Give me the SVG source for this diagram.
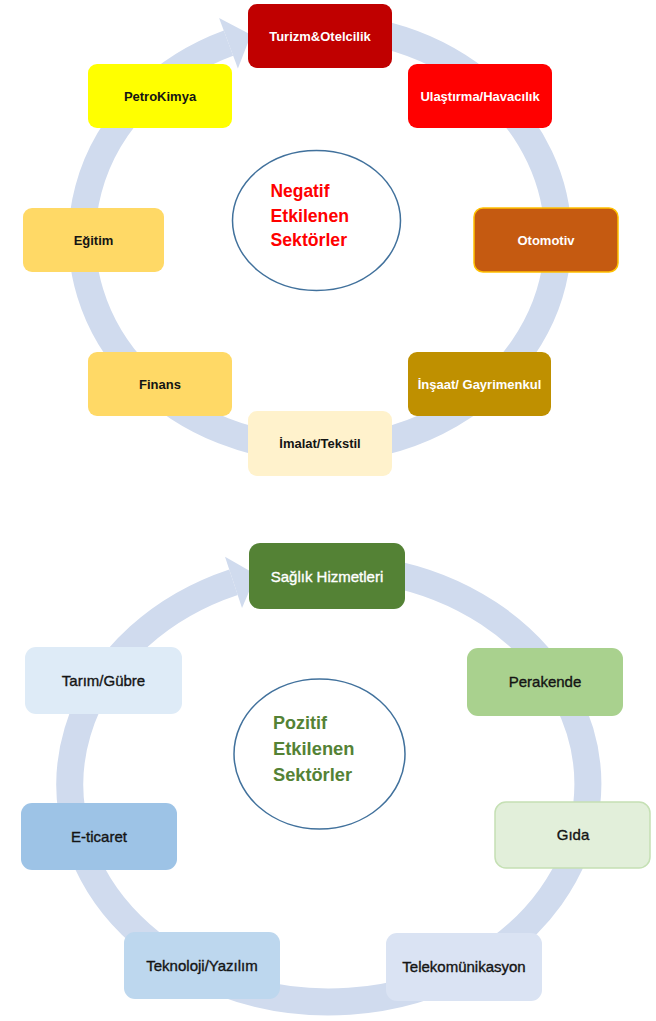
<svg xmlns="http://www.w3.org/2000/svg" width="656" height="1021" viewBox="0 0 656 1021">
<style>
.ring{fill:none;stroke:#D0DBEE;stroke-width:27}
.head{fill:#D0DBEE}
.lt{font-family:"Liberation Sans",Arial,sans-serif;font-weight:bold;font-size:13px;text-anchor:middle}
.lb{font-family:"Liberation Sans",Arial,sans-serif;font-size:15px;text-anchor:middle;stroke-width:0.35}
.w{fill:#FFFFFF}
.k{fill:#141414}
.lb.w{stroke:#FFFFFF}
.lb.k{stroke:#141414}
.ctr{fill:#FFFFFF;stroke:#41719C;stroke-width:1.5}
.ct{font-family:"Liberation Sans",Arial,sans-serif;font-weight:bold;font-size:19px}
</style>
<rect width="656" height="1021" fill="#FFFFFF"/>
<g id="connectors">
  <path class="ring" d="M 375 32.7 A 238 211 0 1 1 228.5 43.2"/>
  <polygon class="head" points="219.1,17.9 251,34.8 237.9,68.5"/>
  <path class="ring" d="M 385 572.2 A 259 217.5 0 1 1 233.5 582.3"/>
  <polygon class="head" points="225,556.7 256.3,574.7 242,607.9"/>
</g>
<g id="center-neg">
  <ellipse class="ctr" cx="316.5" cy="220.5" rx="84" ry="70"/>
  <text class="ct" fill="#FF0000" x="270.5" y="197.3" textLength="59" lengthAdjust="spacingAndGlyphs">Negatif</text>
  <text class="ct" fill="#FF0000" x="270.5" y="221.7" textLength="78.5" lengthAdjust="spacingAndGlyphs">Etkilenen</text>
  <text class="ct" fill="#FF0000" x="270.5" y="246" textLength="76.5" lengthAdjust="spacingAndGlyphs">Sektörler</text>
</g>
<g id="turizm"><rect x="248" y="4" width="144" height="64" rx="9" fill="#C00000"/><text class="lt w" x="320" y="40.5">Turizm&amp;Otelcilik</text></g>
<g id="ulastirma"><rect x="408" y="64" width="144" height="64" rx="9" fill="#FF0000"/><text class="lt w" x="480" y="100.5">Ulaştırma/Havacılık</text></g>
<g id="petrokimya"><rect x="88" y="64" width="144" height="64" rx="9" fill="#FFFF00"/><text class="lt k" x="160" y="100.5">PetroKimya</text></g>
<g id="egitim"><rect x="23" y="208" width="141" height="64" rx="9" fill="#FFD966"/><text class="lt k" x="93.5" y="244.5">Eğitim</text></g>
<g id="otomotiv"><rect x="474" y="208" width="144" height="64" rx="9" fill="#C55A11" stroke="#FFC000" stroke-width="1.5"/><text class="lt w" x="546" y="244.5">Otomotiv</text></g>
<g id="insaat"><rect x="408" y="352" width="143" height="64" rx="9" fill="#BF9000"/><text class="lt w" x="479.5" y="388.5">İnşaat/ Gayrimenkul</text></g>
<g id="finans"><rect x="88" y="352" width="144" height="64" rx="9" fill="#FFD966"/><text class="lt k" x="160" y="388.5">Finans</text></g>
<g id="imalat"><rect x="248" y="411" width="144" height="65" rx="9" fill="#FFF2CC"/><text class="lt k" x="320" y="448">İmalat/Tekstil</text></g>
<g id="center-pos">
  <ellipse class="ctr" cx="319.5" cy="754" rx="85.5" ry="75"/>
  <text class="ct" fill="#548235" x="273" y="729.3" font-size="20" textLength="54" lengthAdjust="spacingAndGlyphs">Pozitif</text>
  <text class="ct" fill="#548235" x="273" y="755" font-size="20" textLength="81.5" lengthAdjust="spacingAndGlyphs">Etkilenen</text>
  <text class="ct" fill="#548235" x="273" y="780.7" font-size="20" textLength="79" lengthAdjust="spacingAndGlyphs">Sektörler</text>
</g>
<g id="saglik"><rect x="249" y="543" width="156" height="66" rx="11" fill="#548235"/><text class="lb w" x="327" y="581.5">Sağlık Hizmetleri</text></g>
<g id="perakende"><rect x="467" y="648" width="156" height="68" rx="11" fill="#A9D18E"/><text class="lb k" x="545" y="687">Perakende</text></g>
<g id="gida"><rect x="495" y="802" width="155" height="66" rx="11" fill="#E2EFDA" stroke="#C5E0B4" stroke-width="1.5"/><text class="lb k" x="573" y="840">Gıda</text></g>
<g id="telekom"><rect x="386" y="933" width="156" height="68" rx="11" fill="#DAE3F3"/><text class="lb k" x="464" y="972">Telekomünikasyon</text></g>
<g id="teknoloji"><rect x="124" y="932" width="156" height="67" rx="11" fill="#BDD7EE"/><text class="lb k" x="202" y="970.5">Teknoloji/Yazılım</text></g>
<g id="eticaret"><rect x="21" y="803" width="156" height="67" rx="11" fill="#9DC3E6"/><text class="lb k" x="99" y="841.5">E-ticaret</text></g>
<g id="tarim"><rect x="25" y="647" width="157" height="67" rx="11" fill="#DEEBF7"/><text class="lb k" x="103.5" y="685.5">Tarım/Gübre</text></g>
</svg>
